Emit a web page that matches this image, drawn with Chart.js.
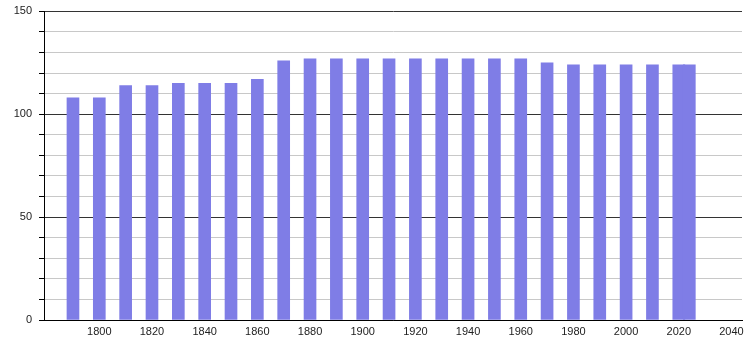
<!DOCTYPE html>
<html lang="en">
<head>
  <meta charset="UTF-8">
  <title>Population</title>
  <script src="https://cdn.jsdelivr.net/npm/chart.js"></script>
  <style>
    html, body { margin: 0; padding: 0; background: #fff; }
    #wrap { width: 750px; height: 340px; position: relative; }
  </style>
</head>
<body>
  <div id="wrap"><canvas id="popChart"></canvas></div>
  <script>
    // census years and values
    const years  = [1790, 1800, 1810, 1820, 1830, 1840, 1850, 1860, 1870, 1880, 1890, 1900,
                    1910, 1920, 1930, 1940, 1950, 1960, 1970, 1980, 1990, 2000, 2010, 2020, 2024];
    const values = [108, 108, 114, 114, 115, 115, 115, 117, 126, 127, 127, 127,
                    127, 127, 127, 127, 127, 127, 125, 124, 124, 124, 124, 124, 124];

    const xTicks = [1800, 1820, 1840, 1860, 1880, 1900, 1920, 1940, 1960, 1980, 2000, 2020, 2040];
    const yTicks = [0, 10, 20, 30, 40, 50, 60, 70, 80, 90, 100, 110, 120, 130, 140, 150];
    const yLabelled = [0, 50, 100, 150];

    const points = years.map((y, i) => ({ x: y, y: values[i] }));
    const tickFont = { family: 'Liberation Sans', size: 11 };

    new Chart(document.getElementById('popChart'), {
      type: 'bar',
      data: {
        datasets: [{
          data: points,
          backgroundColor: '#7f7de6',
          borderWidth: 0,
          barThickness: 12
        }]
      },
      options: {
        responsive: true,
        maintainAspectRatio: false,
        animation: false,
        layout: { padding: { top: 3, right: 8, left: 0, bottom: 0 } },
        plugins: { legend: { display: false }, tooltip: { enabled: false } },
        scales: {
          x: {
            type: 'linear',
            min: 1779,
            max: 2044,
            offset: false,
            afterBuildTicks: s => { s.ticks = xTicks.map(v => ({ value: v })); },
            afterFit: s => { s.height = 20; },
            grid: { display: false, drawTicks: false },
            border: { display: true, color: '#000', width: 1 },
            ticks: {
              color: '#222', font: tickFont, padding: 5, maxRotation: 0, autoSkip: false,
              callback: v => String(v)
            }
          },
          y: {
            min: 0,
            max: 150,
            afterBuildTicks: s => { s.ticks = yTicks.map(v => ({ value: v })); },
            afterFit: s => { s.width = 44; },
            border: { display: true, color: '#000', width: 1 },
            grid: {
              color: c => (c.tick && c.tick.value % 50 === 0) ? '#333' : '#c8c8c8',
              tickColor: '#000',
              tickLength: 5,
              lineWidth: 1
            },
            ticks: {
              color: '#222',
              font: { family: 'Liberation Sans', size: 11, lineHeight: 0.8 },
              padding: 7,
              autoSkip: false,
              callback: v => yLabelled.includes(v) ? String(v) : ''
            }
          }
        }
      }
    });
  </script>
</body>
</html>
